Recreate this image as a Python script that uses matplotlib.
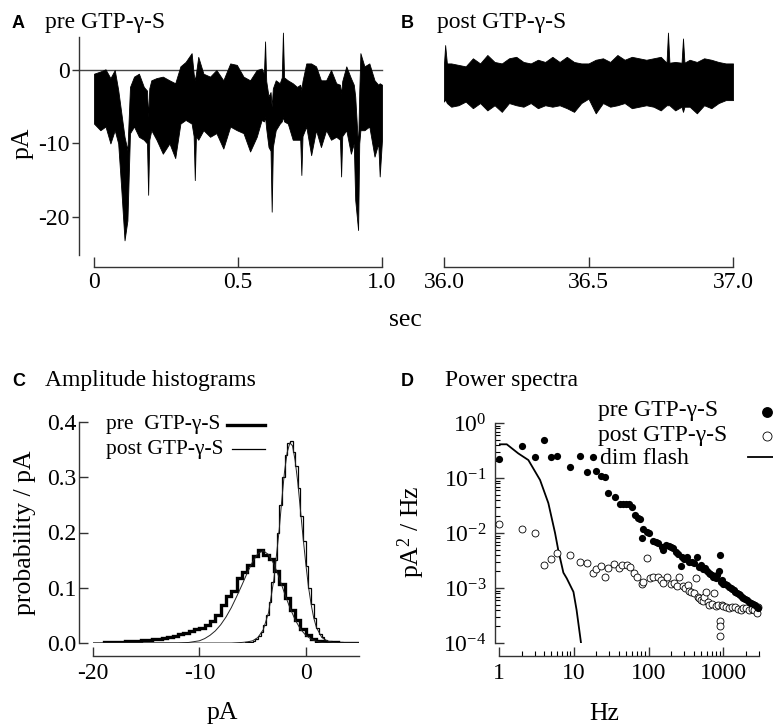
import numpy as np
import matplotlib
matplotlib.use("Agg")
import matplotlib.pyplot as plt
from matplotlib.lines import Line2D
from matplotlib.ticker import FixedLocator, LogLocator, NullFormatter, LogFormatterSciNotation

plt.rcParams['font.family'] = ['Liberation Serif', 'DejaVu Serif']
plt.rcParams['font.size'] = 17
plt.rcParams['axes.unicode_minus'] = False
plt.rcParams['mathtext.fontset'] = 'custom'
plt.rcParams['mathtext.rm'] = 'Liberation Serif'
plt.rcParams['mathtext.it'] = 'Liberation Serif:italic'
plt.rcParams['mathtext.bf'] = 'Liberation Serif:bold'

# ---- A: pre GTP-g-S current trace (envelope, pA) ----
t_pre = [0.0, 0.022, 0.040, 0.057, 0.072, 0.084, 0.095, 0.106, 0.116, 0.125,
         0.139, 0.156, 0.173, 0.184, 0.188, 0.192, 0.199, 0.217, 0.239, 0.262,
         0.282, 0.300, 0.318, 0.339, 0.346, 0.350, 0.354, 0.362, 0.380, 0.403,
         0.425, 0.449, 0.473, 0.496, 0.519, 0.542, 0.565, 0.582, 0.590, 0.594,
         0.598, 0.606, 0.613, 0.617, 0.621, 0.631, 0.645, 0.652, 0.656, 0.660,
         0.673, 0.690, 0.705, 0.716, 0.720, 0.724, 0.737, 0.754, 0.771, 0.788,
         0.806, 0.823, 0.841, 0.854, 0.858, 0.862, 0.876, 0.892, 0.902, 0.907,
         0.917, 0.921, 0.925, 0.939, 0.956, 0.974, 0.987, 0.992, 1.0]
pre_top = [-0.5, -0.2, 0.1, -1.1, 0.0, -2.7, -5.9, -9.1, -10.9, -2.3,
           -0.9, -0.5, -2.3, -2.8, -6.4, -2.5, -1.4, -1.1, -0.9, -1.4,
           -1.8, 0.5, 1.1, 2.3, -0.5, -1.4, -0.5, 1.8, -0.5, -0.9,
           0.0, -1.4, 0.9, 0.7, -0.9, -1.4, 0.0, 0.2, -0.5, 3.9,
           -1.5, -3.6, -3.0, -5.0, -2.5, -1.4, -1.8, -1.0, 5.1, -1.0,
           -1.4, -1.8, -2.3, -2.0, -2.7, -1.5, 0.9, 0.9, 0.5, -1.4,
           -1.4, 0.0, -1.8, -2.0, -3.2, -1.5, 0.5, -1.1, -2.0, -3.6,
           -10.5, -3.0, 2.3, 0.5, 0.9, -1.4, -2.0, -1.8, -2.0]
pre_bot = [-7.3, -8.2, -7.7, -10.0, -8.2, -10.0, -16.4, -23.2, -20.5, -8.6,
           -7.7, -9.1, -9.5, -10.0, -17.0, -9.5, -8.2, -9.5, -11.4, -10.0,
           -12.0, -7.3, -6.8, -7.3, -9.0, -15.0, -9.0, -9.5, -8.2, -9.1,
           -8.6, -10.7, -7.7, -8.2, -8.6, -11.1, -9.1, -6.8, -7.0, -6.4,
           -8.0, -10.5, -11.0, -19.3, -10.5, -8.2, -7.3, -7.0, -6.4, -7.0,
           -7.3, -9.5, -9.5, -9.5, -14.3, -9.0, -7.7, -11.6, -8.2, -10.5,
           -8.2, -9.5, -9.1, -9.5, -14.5, -9.0, -8.2, -11.4, -10.0, -17.7,
           -21.8, -10.0, -8.2, -8.2, -7.7, -11.8, -10.0, -14.5, -9.5]

# ---- B: post GTP-g-S trace ----
t_post = [36.000, 36.004, 36.010, 36.025, 36.050, 36.075, 36.100, 36.125, 36.150, 36.175,
          36.200, 36.225, 36.250, 36.275, 36.300, 36.325, 36.350, 36.375, 36.400, 36.425,
          36.450, 36.475, 36.500, 36.525, 36.550, 36.575, 36.600, 36.625, 36.650, 36.675,
          36.700, 36.725, 36.750, 36.770, 36.775, 36.780, 36.800, 36.822, 36.827, 36.832,
          36.850, 36.875, 36.900, 36.925, 36.950, 36.975, 37.000]
post_top = [0.9, 3.4, 0.9, 0.9, 0.7, 0.5, 1.6, 0.9, 2.05, 1.1,
            0.9, 1.6, 1.8, 1.1, 0.9, 1.4, 1.1, 1.8, 1.1, 1.8,
            1.1, 0.9, 0.9, 1.4, 1.6, 1.1, 2.05, 1.4, 1.8, 1.6,
            1.4, 1.6, 1.8, 1.0, 5.1, 1.0, 1.1, 1.0, 4.3, 1.0,
            1.4, 1.1, 1.6, 1.4, 1.1, 0.9, 0.9]
post_bot = [-4.3, -4.0, -4.5, -5.0, -4.8, -4.3, -5.2, -4.5, -5.5, -4.8,
            -5.7, -4.5, -4.8, -5.0, -4.5, -5.2, -4.8, -5.0, -4.8, -5.2,
            -5.7, -4.5, -3.9, -5.9, -4.5, -5.0, -4.8, -4.5, -5.2, -5.0,
            -4.8, -5.0, -5.5, -4.8, -4.8, -4.8, -5.5, -5.0, -5.7, -5.0,
            -5.0, -5.9, -4.8, -5.2, -4.5, -4.1, -4.1]

# ---- C: amplitude histograms ----
pre_hist = [0.001, 0.001, 0.002, 0.002, 0.003, 0.003, 0.004, 0.005, 0.005, 0.007,
            0.008, 0.009, 0.011, 0.013, 0.016, 0.019, 0.022, 0.026, 0.028, 0.033,
            0.040, 0.050, 0.068, 0.085, 0.095, 0.118, 0.128, 0.142, 0.158, 0.168,
            0.160, 0.152, 0.130, 0.107, 0.082, 0.060, 0.041, 0.026, 0.015, 0.008,
            0.004, 0.002, 0.001, 0.001, 0.0, 0.0, 0.0, 0.0]   # bins -19..5, 0.5 pA
post_hist = [0.000, 0.001, 0.001, 0.002, 0.004, 0.007, 0.012, 0.020, 0.032, 0.050,
             0.075, 0.110, 0.150, 0.200, 0.250, 0.300, 0.340, 0.362, 0.365, 0.345,
             0.320, 0.280, 0.230, 0.185, 0.140, 0.100, 0.070, 0.045, 0.028, 0.016,
             0.010, 0.006, 0.004, 0.003, 0.002, 0.001, 0.001, 0.001, 0.0, 0.0,
             0.0, 0.0, 0.0, 0.0]   # bins -6..5, 0.25 pA
pre_fit_x = [-20, -12, -11, -10, -9.5, -9, -8.5, -8, -7.5, -7, -6.5, -6, -5.5, -5, -4.5,
             -4, -3.5, -3, -2.5, -2, -1.5, -1, -0.5, 0, 0.5, 1, 1.5, 2, 5]
pre_fit_y = [0, 0, 0.001, 0.004, 0.008, 0.014, 0.022, 0.033, 0.047, 0.064, 0.084, 0.105,
             0.127, 0.147, 0.162, 0.167, 0.160, 0.143, 0.118, 0.090, 0.064, 0.042, 0.025,
             0.014, 0.007, 0.003, 0.001, 0, 0]
post_fit_x = [-20, -7, -6, -5.5, -5, -4.5, -4, -3.5, -3, -2.5, -2.25, -2, -1.75, -1.5, -1.25,
              -1, -0.75, -0.5, -0.25, 0, 0.25, 0.5, 0.75, 1, 1.5, 2, 2.5, 3, 5]
post_fit_y = [0, 0, 0.001, 0.002, 0.004, 0.010, 0.024, 0.055, 0.115, 0.205, 0.26, 0.31,
              0.345, 0.362, 0.357, 0.33, 0.29, 0.24, 0.19, 0.143, 0.102, 0.07, 0.045,
              0.028, 0.01, 0.004, 0.001, 0, 0]

# ---- D: power spectra ----
pre_f = [1, 2, 3, 4, 5, 6, 9, 12, 15, 18, 20, 23, 26, 29, 36, 41, 46, 50, 55, 60,
         66, 72, 76, 83, 85, 95, 100, 114, 125, 135, 150, 158, 170, 185, 200, 215,
         230, 250, 273, 280, 300, 325, 350, 380, 410, 443, 470, 500, 540, 572, 610,
         640, 668, 700, 730, 760, 800, 830, 870, 900, 930, 960, 1000, 1050, 1120,
         1180, 1250, 1300, 1370, 1450, 1530, 1600, 1680, 1760, 1850, 1950, 2070,
         2200, 2350, 2520, 2650, 2800, 2950]
pre_p = [0.22, 0.38, 0.24, 0.50, 0.245, 0.255, 0.156, 0.255, 0.13, 0.245, 0.134, 0.109,
         0.106, 0.053, 0.045, 0.034, 0.033, 0.034, 0.033, 0.030, 0.021, 0.019, 0.018,
         0.0082, 0.012, 0.0106, 0.0100, 0.0072, 0.0068, 0.0065, 0.0055, 0.0050, 0.0060,
         0.0058, 0.0055, 0.0053, 0.0045, 0.0042, 0.0025, 0.0037, 0.0034, 0.0037, 0.0030,
         0.0030, 0.0028, 0.0037, 0.0024, 0.0026, 0.0022, 0.0023, 0.0020, 0.0019, 0.0018,
         0.0017, 0.0016, 0.0016, 0.0015, 0.0017, 0.0020, 0.0040, 0.0013, 0.0014, 0.0012,
         0.00118, 0.00113, 0.00105, 0.00098, 0.00095, 0.00092, 0.00086, 0.00080, 0.00078,
         0.00075, 0.00070, 0.00066, 0.00063, 0.00060, 0.00056, 0.00054, 0.00052, 0.00049,
         0.00046, 0.00044]
post_f = [1, 2, 3, 4, 5, 6, 9, 12, 15, 18, 20, 23, 26, 29, 35, 40, 44, 52, 56, 63, 70,
          81, 84, 95, 105, 116, 134, 145, 158, 175, 200, 220, 240, 255, 290, 310, 335,
          350, 370, 410, 432, 455, 480, 510, 530, 560, 590, 620, 650, 700, 755, 800,
          850, 890, 900, 910, 950, 1000, 1100, 1200, 1300, 1420, 1550, 1700, 1850,
          2000, 2200, 2400, 2600, 2800, 2950]
post_p = [0.0144, 0.0118, 0.0099, 0.0026, 0.0034, 0.0044, 0.0039, 0.0030, 0.0029, 0.0019,
          0.0022, 0.0025, 0.0016, 0.0023, 0.0027, 0.0023, 0.0026, 0.0026, 0.0024, 0.0019,
          0.0016, 0.0012, 0.0013, 0.0035, 0.0015, 0.0016, 0.0016, 0.0014, 0.00125, 0.0016,
          0.0012, 0.00125, 0.0011, 0.0016, 0.0011, 0.0010, 0.00115, 0.0009, 0.00085,
          0.0008, 0.0015, 0.0007, 0.00065, 0.0006, 0.00058, 0.0007, 0.00086, 0.00055,
          0.0005, 0.00052, 0.00082, 0.00048, 0.0005, 0.00025, 0.0002, 0.000135, 0.0005,
          0.00048, 0.00045, 0.00043, 0.00045, 0.00045, 0.00042, 0.0004, 0.00043, 0.00044,
          0.0004, 0.00042, 0.0004, 0.00035, 0.00045]
flash_f = [1.0, 1.27, 1.81, 2.47, 3.54, 4.57, 5.62, 6.2, 7.26, 8.05, 9.9, 10.9, 12.5]
flash_p = [0.41, 0.41, 0.28, 0.212, 0.092, 0.035, 0.010, 0.0049, 0.0019, 0.0015,
           0.00085, 0.0004, 0.0001]

W, H = 773, 724
fig = plt.figure(figsize=(W / 100, H / 100), dpi=100)
SPINE = '#333333'


def box(l, t, r, b):
    return [l / W, 1 - b / H, (r - l) / W, (b - t) / H]


def style(ax, left_out, bottom_out):
    for s in ['top', 'right']:
        ax.spines[s].set_visible(False)
    for s in ['left', 'bottom']:
        ax.spines[s].set_color(SPINE)
        ax.spines[s].set_linewidth(1.0)
    ax.spines['left'].set_position(('outward', left_out))
    ax.spines['bottom'].set_position(('outward', bottom_out))
    ax.tick_params(colors=SPINE, labelcolor='black', width=1.0)
    ax.patch.set_visible(False)


def ftext(x, y, s, **kw):
    fig.text(x / W, 1 - y / H, s, **kw)


def fline(x0, x1, y, **kw):
    # legend key drawn in figure pixels
    fig.add_artist(Line2D([x0 / W, x1 / W], [1 - y / H, 1 - y / H],
                          transform=fig.transFigure, **kw))


# ---------- A ----------
axA = fig.add_axes(box(94, 37, 382, 255))
style(axA, 10.8, 8.6)
axA.axhline(0, xmin=-0.052, xmax=1.0, color='#444444', lw=1.0, clip_on=False, zorder=1)
axA.fill_between(t_pre, pre_bot, pre_top, color='black', lw=0.6, zorder=2, clip_on=False)
axA.set_xlim(0, 1.0)
axA.set_ylim(-25.2, 4.5)
axA.xaxis.set_major_locator(FixedLocator([0, 0.5, 1.0]))
axA.set_xticklabels(['0', '0.5', '1.0'])
axA.yaxis.set_major_locator(FixedLocator([0, -10, -20]))
axA.set_yticklabels(['0', '-10', '-20'])
axA.tick_params(axis='x', direction='in', length=7, pad=4)
axA.tick_params(axis='y', direction='out', length=5, pad=1.5)

# ---------- B ----------
axB = fig.add_axes(box(444, 37, 733, 255))
style(axB, 0, 8.6)
axB.spines['left'].set_visible(False)
axB.fill_between(t_post, post_bot, post_top, color='black', lw=0.6, clip_on=False)
axB.set_xlim(36.0, 37.0)
axB.set_ylim(-25.2, 4.5)
axB.xaxis.set_major_locator(FixedLocator([36.0, 36.5, 37.0]))
axB.set_xticklabels(['36.0', '36.5', '37.0'])
axB.set_yticks([])
axB.tick_params(axis='x', direction='in', length=7, pad=4)

# ---------- C ----------
axC = fig.add_axes(box(93, 422, 359, 643))
style(axC, 10, 9.4)
pre_edges = np.linspace(-19, 5, len(pre_hist) + 1)
post_edges = np.linspace(-6, 5, len(post_hist) + 1)
axC.plot(pre_fit_x, pre_fit_y, color='#222222', lw=0.7)
axC.plot(post_fit_x, post_fit_y, color='#222222', lw=0.7)
axC.stairs(post_hist, post_edges, color='black', lw=0.9)
axC.stairs(pre_hist, pre_edges, color='black', lw=2.4)
axC.set_xlim(-20, 5)
axC.set_ylim(0, 0.4)
axC.xaxis.set_major_locator(FixedLocator([-20, -10, 0]))
axC.set_xticklabels(['-20', '-10', '0'])
axC.yaxis.set_major_locator(FixedLocator([0, 0.1, 0.2, 0.3, 0.4]))
axC.set_yticklabels(['0.0', '0.1', '0.2', '0.3', '0.4'])
axC.tick_params(axis='x', direction='in', length=6.5, pad=5)
axC.tick_params(axis='y', direction='in', length=6.5, pad=2)
# legend
ftext(106, 425, 'pre  GTP-\u03b3-S', fontsize=15.5, ha='left', va='center')
ftext(106, 449, 'post GTP-\u03b3-S', fontsize=15.5, ha='left', va='center')
fline(227, 265, 425, color='black', lw=2.4)
fline(232, 265, 449, color='black', lw=0.9)

# ---------- D ----------
axD = fig.add_axes(box(499, 423, 759, 643))
style(axD, 2.9, 9.4)
axD.set_xscale('log')
axD.set_yscale('log')
axD.plot(flash_f, flash_p, color='black', lw=1.3, zorder=2)
axD.plot(post_f, post_p, 'o', ms=5, mfc='white', mec='black', mew=0.6,
         clip_on=False, zorder=3)
axD.plot(pre_f, pre_p, 'o', ms=5.2, mfc='black', mec='black', mew=0,
         clip_on=False, zorder=4)
axD.set_xlim(1, 3000)
axD.set_ylim(1e-4, 1)
axD.xaxis.set_major_locator(FixedLocator([1, 10, 100, 1000]))
axD.set_xticklabels(['1', '10', '100', '1000'])
axD.xaxis.set_minor_locator(LogLocator(base=10, subs=np.arange(2, 10), numticks=20))
axD.xaxis.set_minor_formatter(NullFormatter())
axD.yaxis.set_major_locator(LogLocator(base=10, numticks=10))
axD.yaxis.set_major_formatter(LogFormatterSciNotation())
axD.yaxis.set_minor_locator(LogLocator(base=10, subs=np.arange(2, 10), numticks=20))
axD.yaxis.set_minor_formatter(NullFormatter())
axD.tick_params(which='major', direction='in', length=6.5)
axD.tick_params(which='minor', direction='in', length=3.5, width=0.8)
axD.tick_params(axis='x', which='major', pad=5)
axD.tick_params(axis='y', which='major', pad=6)
# legend
ftext(598, 410, 'pre GTP-\u03b3-S', fontsize=17, ha='left', va='center')
ftext(598, 435, 'post GTP-\u03b3-S', fontsize=17, ha='left', va='center')
ftext(600, 458, 'dim flash', fontsize=17, ha='left', va='center')
fig.add_artist(Line2D([767 / W], [1 - 412 / H], transform=fig.transFigure, ls='none',
                      marker='o', ms=6.8, mfc='black', mec='black'))
fig.add_artist(Line2D([767 / W], [1 - 436 / H], transform=fig.transFigure, ls='none',
                      marker='o', ms=6.5, mfc='white', mec='black', mew=0.6))
fline(748, 780, 457, color='black', lw=1.3)

# ---------- panel titles and axis labels ----------
for (lx, tx, yb, letter, title) in [(12, 45, 28, 'A', 'pre GTP-\u03b3-S'),
                                    (401, 437, 28, 'B', 'post GTP-\u03b3-S'),
                                    (12, 45, 386, 'C', 'Amplitude histograms'),
                                    (401, 445, 386, 'D', 'Power spectra')]:
    ftext(lx, yb, letter, family='Liberation Sans', weight='bold', fontsize=13,
          va='baseline', ha='left')
    ftext(tx, yb, title, fontsize=17, va='baseline', ha='left')

ftext(23, 143, 'pA', fontsize=18.5, rotation=90, ha='center', va='center')
ftext(405, 326, 'sec', fontsize=18.5, ha='center', va='baseline')
ftext(25, 533, 'probability / pA', fontsize=18.5, rotation=90, ha='center', va='center')
ftext(222, 719, 'pA', fontsize=18.5, ha='center', va='baseline')
ftext(411, 532, r'pA$^2$ / Hz', fontsize=18.5, rotation=90, ha='center', va='center')
ftext(604, 720, 'Hz', fontsize=18.5, ha='center', va='baseline')

fig.savefig('out.png', dpi=100)
